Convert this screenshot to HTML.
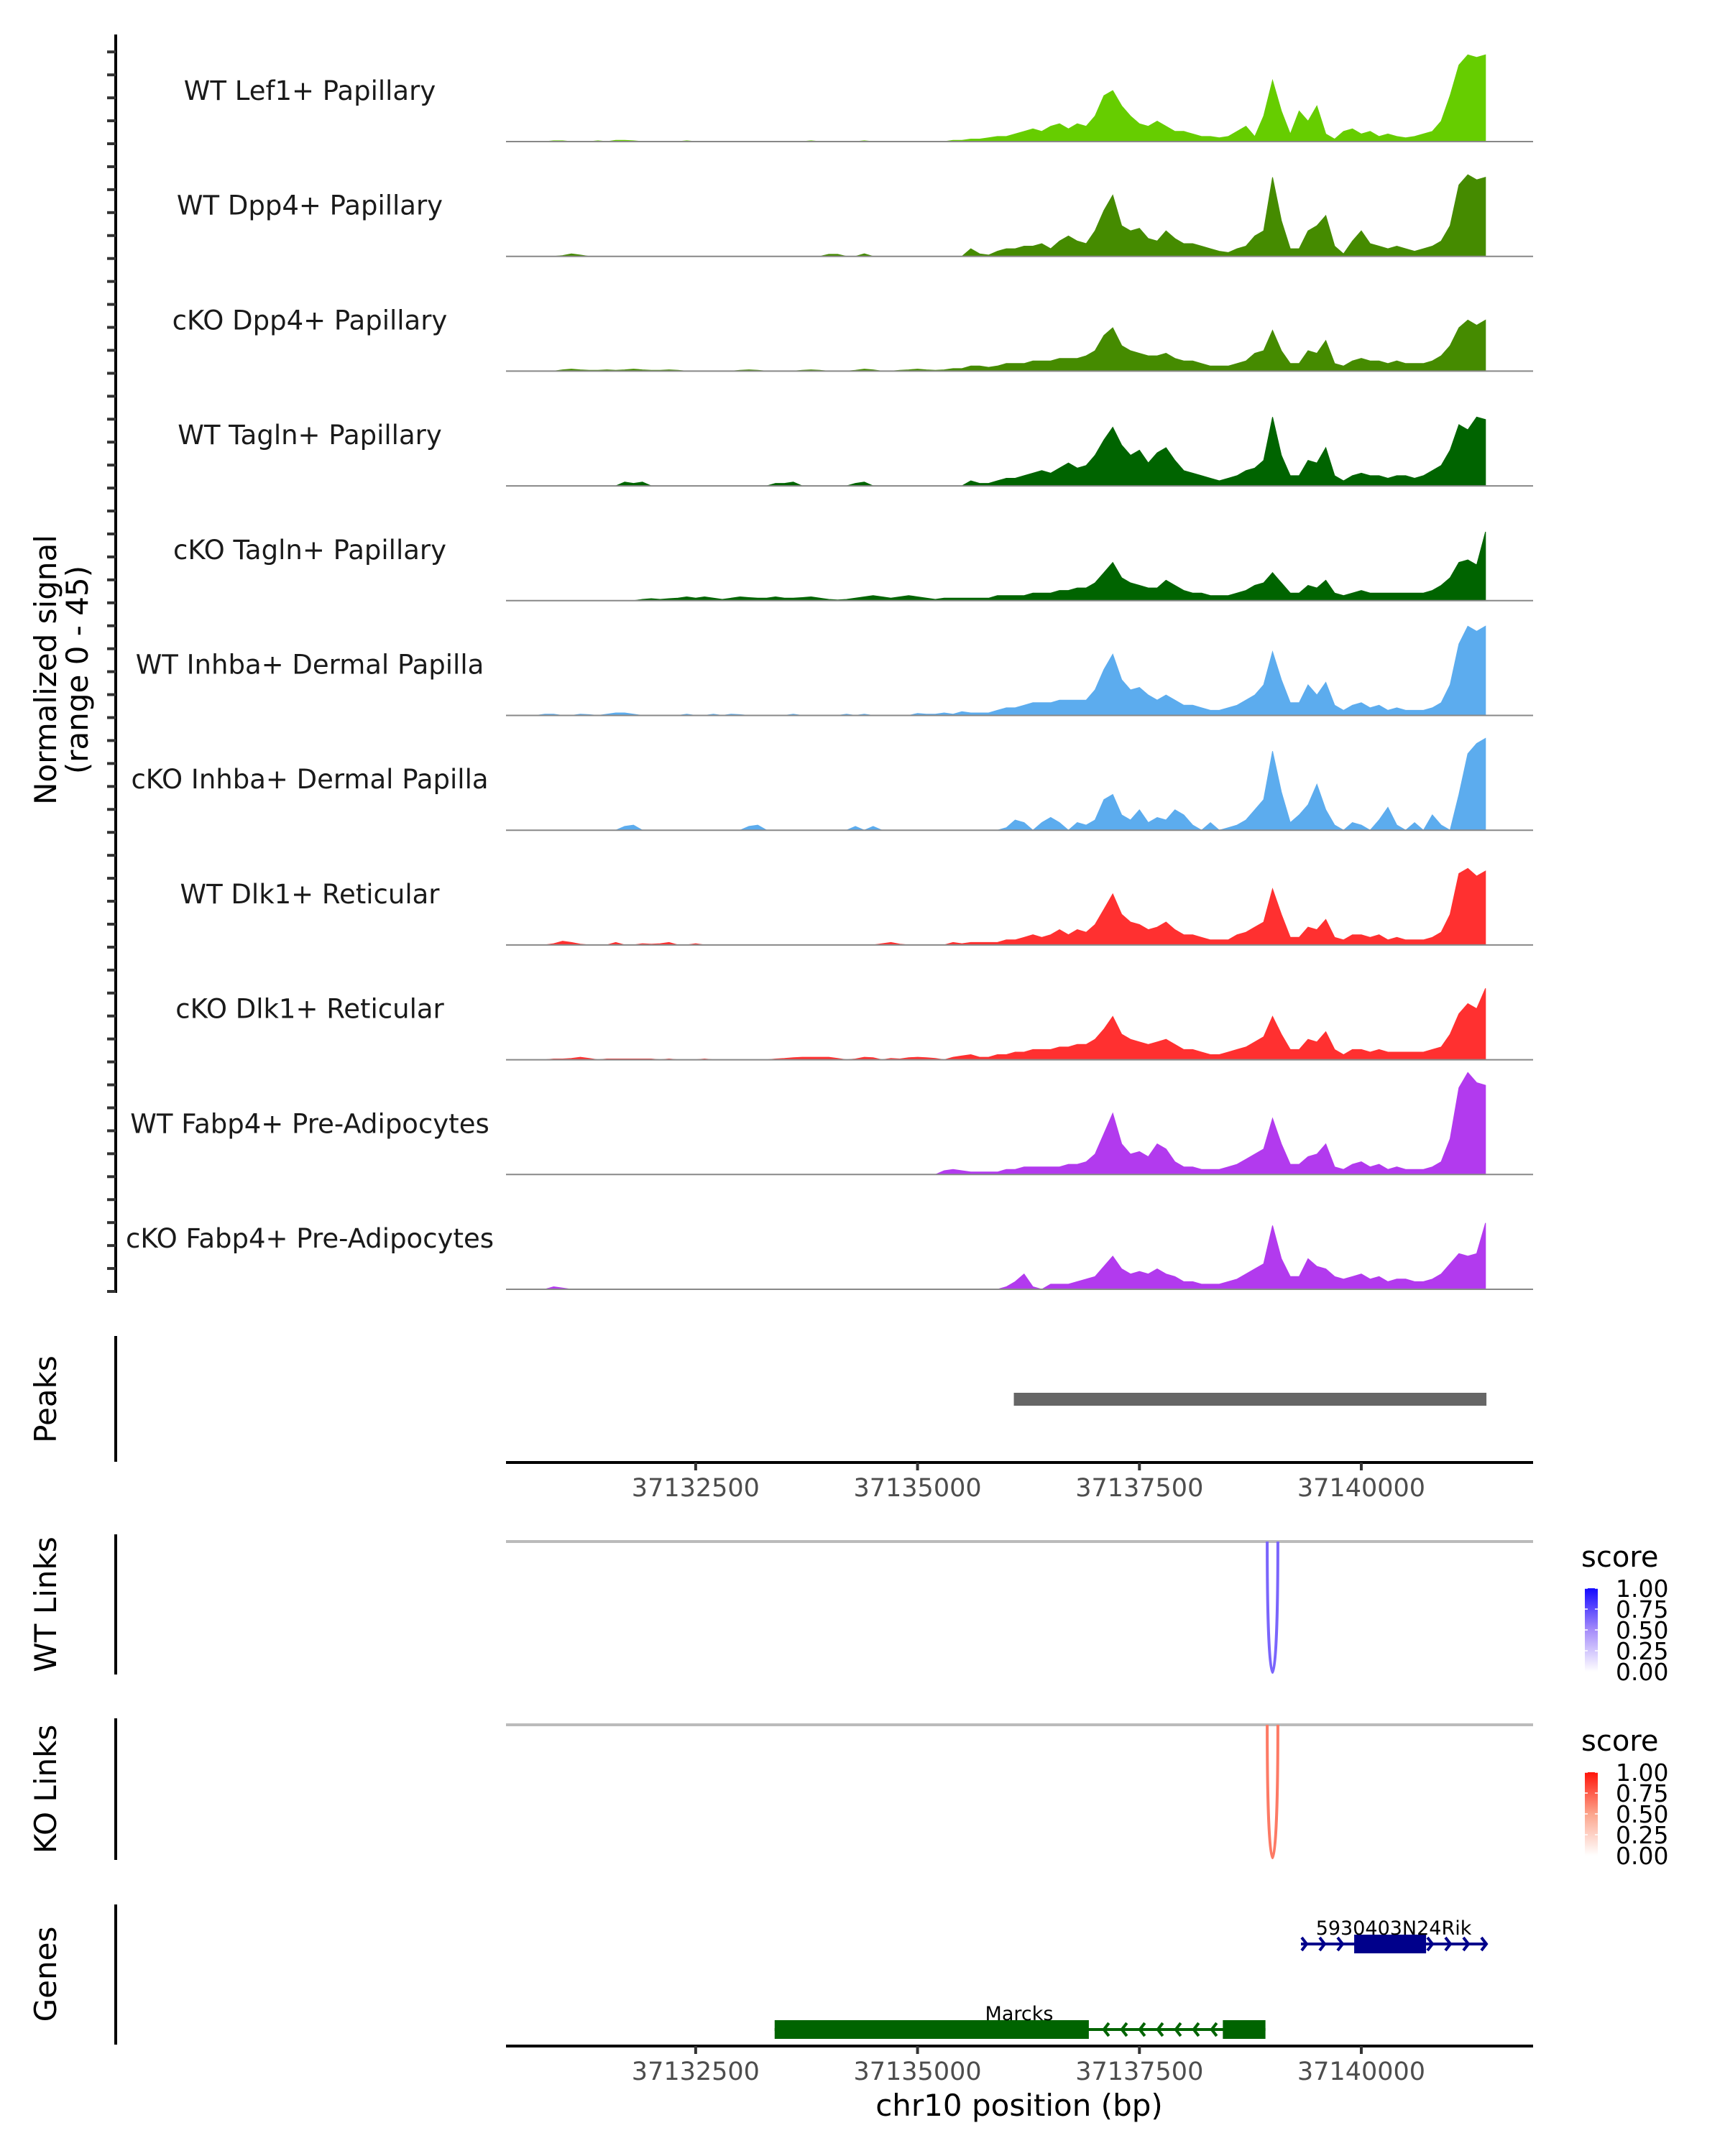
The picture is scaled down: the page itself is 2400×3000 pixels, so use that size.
<!DOCTYPE html>
<html><head><meta charset="utf-8"><style>
html,body{margin:0;padding:0;background:#fff;}
svg{display:block;font-family:"DejaVu Sans","Liberation Sans",sans-serif;}
</style></head><body>
<svg id="chart" xmlns="http://www.w3.org/2000/svg" width="2400" height="3000" viewBox="0 0 2400 3000"></svg>
<script>
// ---- data ----
const trackNames = ["WT Lef1+ Papillary","WT Dpp4+ Papillary","cKO Dpp4+ Papillary","WT Tagln+ Papillary","cKO Tagln+ Papillary","WT Inhba+ Dermal Papilla","cKO Inhba+ Dermal Papilla","WT Dlk1+ Reticular","cKO Dlk1+ Reticular","WT Fabp4+ Pre-Adipocytes","cKO Fabp4+ Pre-Adipocytes"];
const trackColors = ["#66cd00","#458b00","#458b00","#006400","#006400","#5cacee","#5cacee","#ff3030","#ff3030","#b23aee","#b23aee"];
const binStart = 37130400;
const binSize = 100;
const sigLef1WT = [0,0,0,0,0,0.3,0.3,0,0,0,0.3,0,0.5,0.5,0.3,0,0,0,0,0,0.3,0,0,0,0,0,0,0,0,0,0,0,0,0,0.3,0,0,0,0,0,0.3,0,0,0,0,0,0,0,0,0,0.5,0.5,
 1,1,1.5,2,2,3,4,5,4,6,7,5,7,6,10,18,20,14,10,7,6,8,6,4,4,3,2,2,1.5,2,4,6,2,10,24,12,3,12,8,14,3,1,4,5,3,4,2,3,2,1.5,2,3,4,8,18,30,34,33,34];
const sigDpp4WT = [0,0,0,0,0,0,0.3,1,0.5,0,0,0,0,0,0,0,0,0,0,0,0,0,0,0,0,0,0,0,0,0,0,0,0,0,0,0,0.8,0.8,0,0,1,0,0,0,0,0,0,0,0,0,0,0,
 3,1,0.5,2,3,3,4,4,5,3,6,8,6,5,10,18,24,12,10,11,7,6,10,7,5,5,4,3,2,1.5,3,4,8,10,31,14,3,3,10,12,16,4,1,6,10,5,4,3,4,3,2,3,4,6,12,28,32,30,31];
const sigDpp4KO = [0,0,0,0,0,0,0.5,0.8,0.5,0.3,0.3,0.5,0.3,0.5,0.8,0.5,0.3,0.3,0.5,0.3,0,0,0,0,0,0,0.3,0.5,0.3,0,0,0,0,0.3,0.5,0.3,0,0,0,0.3,0.8,0.5,0,0,0.3,0.5,0.8,0.5,0.3,0.5,1,1,
 2,2,1.5,2,3,3,3,4,4,4,5,5,5,6,8,14,17,10,8,7,6,6,7,5,4,4,3,2,2,2,3,4,7,8,16,8,3,3,8,7,12,3,2,4,5,4,4,3,4,3,3,3,4,6,10,17,20,18,20];
const sigTaglnWT = [0,0,0,0,0,0,0,0,0,0,0,0,0,1.5,1,1.5,0,0,0,0,0,0,0,0,0,0,0,0,0,0,1,1,1.5,0,0,0,0,0,0,1,1.5,0,0,0,0,0,0,0,0,0,0,0,
 2,1,1,2,3,3,4,5,6,5,7,9,7,8,12,18,23,16,12,14,9,13,15,10,6,5,4,3,2,3,4,6,7,10,27,12,4,4,10,9,15,4,2,4,5,4,4,3,4,4,3,4,6,8,14,24,22,27,26];
const sigTaglnKO = [0,0,0,0,0,0,0,0,0,0,0,0,0,0,0,0.5,0.8,0.5,0.8,1,1.5,1,1.5,1,0.5,1,1.5,1.2,1,1,1.5,1,1,1.2,1.5,1,0.5,0.3,0.5,1,1.5,2,1.5,1,1.5,2,1.5,1,0.5,1,1,1,
 1,1,1,2,2,2,2,3,3,3,4,4,5,5,7,11,15,9,7,6,5,5,8,6,4,3,3,2,2,2,3,4,6,7,11,7,3,3,6,5,8,3,2,3,4,3,3,3,3,3,3,3,4,6,9,15,16,14,27];
const sigInhbaWT = [0,0,0,0,0.5,0.5,0,0,0.5,0.3,0,0.5,1,1,0.5,0,0,0,0,0,0.5,0,0,0.5,0,0.5,0.3,0,0,0,0,0,0.5,0,0,0,0,0,0.5,0,0.5,0,0,0,0,0,0.8,0.5,0.5,1,0.5,1.5,
 1,1,1,2,3,3,4,5,5,5,6,6,6,6,10,18,24,14,10,11,8,6,8,6,4,4,3,2,2,3,4,6,8,12,25,14,5,5,12,8,13,4,2,4,5,3,4,2,3,2,2,2,3,5,12,28,35,33,35];
const sigInhbaKO = [0,0,0,0,0,0,0,0,0,0,0,0,0,1.5,2,0,0,0,0,0,0,0,0,0,0,0,0,1.5,2,0,0,0,0,0,0,0,0,0,0,1.5,0,1.5,0,0,0,0,0,0,0,0,0,0,
 0,0,0,0,1,4,3,0,3,5,3,0,3,2,4,12,14,6,4,8,3,5,4,8,6,2,0,3,0,1,2,4,8,12,31,15,3,6,10,18,8,2,0,3,2,0,4,9,2,0,3,0,6,2,0,14,30,34,36];
const sigDlk1WT = [0,0,0,0,0,0.5,1.5,1,0.3,0,0,0,1,0,0,0.5,0.3,0.5,1,0,0,0.5,0,0,0,0,0,0,0,0,0,0,0,0,0,0,0,0,0,0,0,0,0.5,1,0.3,0,0,0,0,0,1,0.5,
 1,1,1,1,2,2,3,4,3,4,6,4,6,5,8,14,20,12,9,8,6,7,9,6,4,4,3,2,2,2,4,5,7,9,22,12,3,3,7,6,10,3,2,4,4,3,4,2,3,2,2,2,3,5,12,28,30,27,29];
const sigDlk1KO = [0,0,0,0,0,0.3,0.3,0.5,1,0.5,0,0.3,0.3,0.3,0.3,0.3,0.3,0,0.3,0,0,0,0.3,0,0,0,0,0,0,0,0.3,0.5,0.8,1,1,1,1,0.5,0,0.3,1,0.8,0,0.5,0.3,0.8,1,0.8,0.5,0,1,1.5,
 2,1,1,2,2,3,3,4,4,4,5,5,6,6,8,12,17,10,8,7,6,7,8,6,4,4,3,2,2,3,4,5,7,9,17,10,4,4,8,7,11,4,2,4,4,3,4,3,3,3,3,3,4,5,10,18,22,20,28];
const sigFabp4WT = [0,0,0,0,0,0,0,0,0,0,0,0,0,0,0,0,0,0,0,0,0,0,0,0,0,0,0,0,0,0,0,0,0,0,0,0,0,0,0,0,0,0,0,0,0,0,0,0,0,1.5,2,1.5,
 1,1,1,1,2,2,3,3,3,3,3,4,4,5,8,16,24,12,8,9,7,12,10,5,3,3,2,2,2,3,4,6,8,10,22,12,4,4,7,8,12,3,2,4,5,3,4,2,3,2,2,2,3,5,14,34,40,36,35];
const sigFabp4KO = [0,0,0,0,0,1,0.5,0,0,0,0,0,0,0,0,0,0,0,0,0,0,0,0,0,0,0,0,0,0,0,0,0,0,0,0,0,0,0,0,0,0,0,0,0,0,0,0,0,0,0,0,0,
 0,0,0,0,1,3,6,1,0,2,2,2,3,4,5,9,13,8,6,7,6,8,6,5,3,3,2,2,2,3,4,6,8,10,25,12,5,5,12,9,8,5,4,5,6,4,5,3,4,4,3,3,4,6,10,14,13,14,26];
const signals = [sigLef1WT,sigDpp4WT,sigDpp4KO,sigTaglnWT,sigTaglnKO,sigInhbaWT,sigInhbaKO,sigDlk1WT,sigDlk1KO,sigFabp4WT,sigFabp4KO];
const xTicks = [37132500,37135000,37137500,37140000];
const xTickLabels = ["37132500","37135000","37137500","37140000"];
const peakStarts = [37136085];
const peakEnds = [37141410];
const wtLinkStart = [37138940]; const wtLinkEnd = [37139060]; const wtLinkScore = [0.65];
const koLinkStart = [37138940]; const koLinkEnd = [37139060]; const koLinkScore = [0.65];
const legendTicks = [1.00,0.75,0.50,0.25,0.00];
const legendTickLabels = ["1.00","0.75","0.50","0.25","0.00"];
const geneNames = ["5930403N24Rik","Marcks"];
const geneStart = [37139320,37133390];
const geneEnd = [37141410,37138920];
const geneCdsStart = [37139920,37133390];
const geneCdsEnd = [37140730,37136930];
const geneExon2Start = [null,37138440];
const geneStrand = [1,-1];

// ---- scales ----
const X0 = 704, X1 = 2133, BP0 = 37130363, PXBP = 0.12348;
function xs(bp){ return X0 + (bp - BP0) * PXBP; }
const TRACK_TOP_BASE = 197, TRACK_STEP = 159.7, YMAX = 45, TRACK_H = 159.7;
function ys(v, t){ return TRACK_TOP_BASE + t*TRACK_STEP - v/YMAX*TRACK_H; }

const svg = document.getElementById('chart');
const NS = "http://www.w3.org/2000/svg";
function mk(tag, attrs, parent){ const e=document.createElementNS(NS,tag); for(const k in attrs) e.setAttribute(k,attrs[k]); (parent||svg).appendChild(e); return e; }
function txt(str, attrs, parent){ const e=mk('text',attrs,parent); e.textContent=str; return e; }
function lerp3(c0,c1,c2,s){ const a=s<0.5?c0:c1, b=s<0.5?c1:c2, f=s<0.5?s*2:(s-0.5)*2; return 'rgb('+[0,1,2].map(k=>Math.round(a[k]+(b[k]-a[k])*f)).join(',')+')'; }

// left y axis
let g = mk('g',{});


mk('line',{x1:161,y1:48,x2:161,y2:1799,stroke:'#000','stroke-width':4},g);
for(let k=0;k<=55;k++){
  const y = 1797 - k*TRACK_STEP/5;
  if(y<60) break;
  const tk = mk('line',{x1:149,y1:y,x2:161,y2:y,stroke:'#333','stroke-width':4},g);
  
  
}
let yt = txt('',{transform:'translate(78,932) rotate(-90)','text-anchor':'middle','font-size':42,fill:'#000'});


mk('tspan',{x:0,dy:0},yt).textContent='Normalized signal';
mk('tspan',{x:0,dy:44},yt).textContent='(range 0 - 45)';

// tracks
for(let t=0;t<signals.length;t++){
  const tg = mk('g',{});
  
  
  const base = ys(0,t);
  const arr = signals[t];
  let d = 'M'+xs(binStart)+','+base;
  for(let i=0;i<arr.length;i++){
    const bp = binStart + i*binSize;
    d += ' L'+xs(bp).toFixed(1)+','+ys(arr[i],t).toFixed(1);
  }
  d += ' L'+xs(binStart+(arr.length-1)*binSize).toFixed(1)+','+base+' Z';
  const p = mk('path',{d:d,fill:trackColors[t],stroke:trackColors[t],'stroke-width':1},tg);
  
  
  const bl = mk('line',{x1:X0,y1:base,x2:X1,y2:base,stroke:'#888','stroke-width':2},tg);
  
  
  const lb = txt(trackNames[t],{x:431,y:base-71+13,'text-anchor':'middle','font-size':37,fill:'#1a1a1a'},tg);
  
  
}

// peaks panel
g = mk('g',{});


mk('line',{x1:161,y1:1859,x2:161,y2:2034,stroke:'#000','stroke-width':4},g);
let pl = txt('Peaks',{transform:'translate(78,1947) rotate(-90)','text-anchor':'middle','font-size':42},g);


for(let i=0;i<peakStarts.length;i++){
  const r = mk('rect',{x:xs(peakStarts[i]),y:1938,width:xs(peakEnds[i])-xs(peakStarts[i]),height:18,fill:'#666'},g);
  
  
}
function xAxis(y, name){
  const ag = mk('g',{});
  
  
  mk('line',{x1:X0,y1:y,x2:X1,y2:y,stroke:'#000','stroke-width':4},ag);
  for(let i=0;i<xTicks.length;i++){
    const x = xs(xTicks[i]);
    mk('line',{x1:x,y1:y,x2:x,y2:y+11,stroke:'#333','stroke-width':4},ag);
    const tl = txt(xTickLabels[i],{x:x,y:y+47,'text-anchor':'middle','font-size':35,fill:'#4d4d4d'},ag);
    
    
  }
}
xAxis(2035,'peaks-x-axis');

// links
function linkPanel(top, bottom, lineY, label, starts, ends, scores, cHi, legendY, name){
  const lg = mk('g',{});
  
  
  mk('line',{x1:161,y1:top,x2:161,y2:bottom,stroke:'#000','stroke-width':4},lg);
  const l = txt(label,{transform:'translate(78,'+((top+bottom)/2)+') rotate(-90)','text-anchor':'middle','font-size':42},lg);
  
  
  mk('line',{x1:X0,y1:lineY,x2:X1,y2:lineY,stroke:'#bbb','stroke-width':4},lg);
  for(let i=0;i<starts.length;i++){
    const a = xs(starts[i]), b = xs(ends[i]);
    const depth = (bottom-3-lineY)/0.75;
    const arc = mk('path',{d:'M'+a+','+lineY+' C'+a+','+(lineY+depth)+' '+b+','+(lineY+depth)+' '+b+','+lineY,fill:'none',stroke:cHi(scores[i]),'stroke-width':4},lg);
    
    
  }
  const gid = name+'-grad';
  const defs = mk('defs',{},lg);
  const gr = mk('linearGradient',{id:gid,x1:0,y1:1,x2:0,y2:0},defs);
  for(let k=0;k<=4;k++) mk('stop',{offset:k/4,'stop-color':cHi(k/4)},gr);
  const st = txt('score',{x:2200,y:legendY,'font-size':40},lg);
  
  
  const by0 = legendY+30, bh = 116;
  const bar = mk('rect',{x:2205,y:by0,width:18,height:bh,fill:'url(#'+gid+')'},lg);
  
  
  for(let i=0;i<legendTicks.length;i++){
    const y = by0 + (1-legendTicks[i])*bh;
    mk('line',{x1:2205,y1:y,x2:2209,y2:y,stroke:'#fff','stroke-width':1.5},lg);
    mk('line',{x1:2219,y1:y,x2:2223,y2:y,stroke:'#fff','stroke-width':1.5},lg);
    const tl = txt(legendTickLabels[i],{x:2248,y:y+12,'font-size':33},lg);
    
    
  }
}
linkPanel(2135,2330,2145,'WT Links',wtLinkStart,wtLinkEnd,wtLinkScore,function(s){return lerp3([255,255,255],[165,140,250],[20,10,255],s);},2180,'wt-links-panel');
linkPanel(2391,2588,2400,'KO Links',koLinkStart,koLinkEnd,koLinkScore,function(s){return lerp3([255,255,255],[252,165,140],[255,20,10],s);},2436,'ko-links-panel');

// genes
g = mk('g',{});


mk('line',{x1:161,y1:2650,x2:161,y2:2845,stroke:'#000','stroke-width':4},g);
let gl = txt('Genes',{transform:'translate(78,2747) rotate(-90)','text-anchor':'middle','font-size':42},g);


const geneY = [2705,2824], geneCol = ['#00008b','#006400'];
for(let i=0;i<geneNames.length;i++){
  const gg = mk('g',{},g);
  
  
  const y = geneY[i], c = geneCol[i];
  const a = xs(geneStart[i]), b = xs(geneEnd[i]);
  mk('line',{x1:a,y1:y,x2:b,y2:y,stroke:c,'stroke-width':4},gg);
  const dir = geneStrand[i];
  for(let x=a+8; x<b; x+=25){
    const inC = (x>xs(geneCdsStart[i])-6 && x<xs(geneCdsEnd[i])+6) || (geneExon2Start[i]&&x>xs(geneExon2Start[i])-6);
    if(inC) continue;
    mk('polyline',{points:(x-7*dir)+','+(y-9)+' '+x+','+y+' '+(x-7*dir)+','+(y+9),fill:'none',stroke:c,'stroke-width':4},gg);
  }
  mk('rect',{x:xs(geneCdsStart[i]),y:y-13,width:xs(geneCdsEnd[i])-xs(geneCdsStart[i]),height:26,fill:c},gg);
  if(geneExon2Start[i]) mk('rect',{x:xs(geneExon2Start[i]),y:y-13,width:b-xs(geneExon2Start[i]),height:26,fill:c},gg);
  const lx = i===0 ? (a+b)/2 : 1418;
  const t = txt(geneNames[i],{x:lx,y:y-13,'text-anchor':'middle','font-size':27,fill:'#000'},gg);
  
  
}
xAxis(2847,'bottom-x-axis');
let xt = txt('chr10 position (bp)',{x:1418,y:2944,'text-anchor':'middle','font-size':42});


</script>
</body></html>
